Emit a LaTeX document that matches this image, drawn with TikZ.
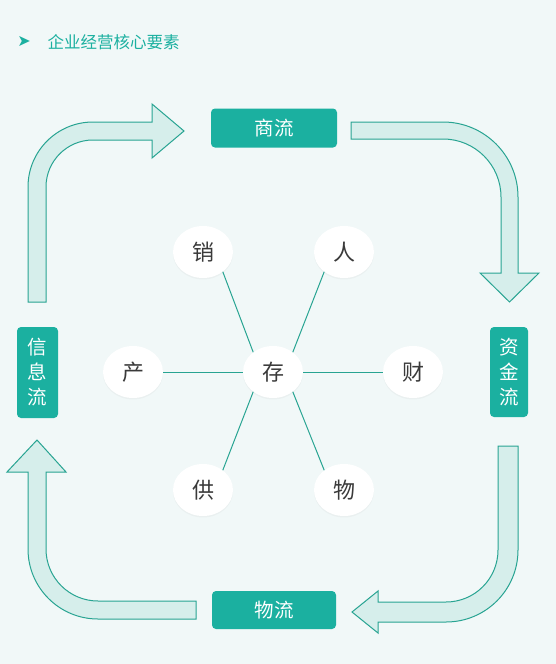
\documentclass[tikz,border=0pt]{standalone}
\usepackage{fontspec}
\setmainfont{Noto Sans CJK SC}
\newfontfamily\symfont{DejaVu Sans}
\usepackage{tikz}
\usetikzlibrary{shapes.geometric, shadows}
\definecolor{bgcol}{RGB}{241,248,248}
\definecolor{flowgreen}{RGB}{27,176,160}
\definecolor{flowline}{RGB}{40,164,146}
\definecolor{flowpale}{RGB}{214,238,235}
\definecolor{inkgray}{RGB}{58,58,58}
\tikzset{
  flow/.style={draw=flowline, fill=flowpale, line width=1pt, line join=miter},
  tag/.style={fill=flowgreen, rounded corners=4pt, text=white, inner sep=0pt,
    font=\fontsize{19.5}{25}\selectfont},
  item/.style={ellipse, fill=white, minimum width=60pt, minimum height=52pt, inner sep=0pt,
    text=inkgray, font=\fontsize{22}{22}\selectfont,
    drop shadow={opacity=0.06, shadow xshift=0pt, shadow yshift=-1.5pt}},
  spoke/.style={draw=flowline, line width=1pt}
}

\begin{document}
\begin{tikzpicture}[x=1pt, y=-1pt]
\useasboundingbox (0,0) rectangle (556,664);
\fill[bgcol] (0,0) rectangle (556,664);

% title
\node[text=flowgreen, font=\symfont\fontsize{16}{16}\selectfont] (bullet) at (24,41) {➤};
\node[anchor=west, text=flowgreen, font=\fontsize{16.5}{16.5}\selectfont] (title) at (44,42) {企业经营核心要素};

% flow arrows
\draw[flow] (28,302) -- (28,187) arc[start angle=180, end angle=270, radius=65]
  -- (152,122) -- (152,104) -- (184,131) -- (152,158) -- (152,140) -- (93,140)
  arc[start angle=270, end angle=180, radius=47] -- (46,302) -- cycle;
\draw[flow] (351,122) -- (443,122) arc[start angle=270, end angle=360, radius=75]
  -- (518,273) -- (539,273) -- (509.5,302) -- (480,273) -- (501,273) -- (501,197)
  arc[start angle=0, end angle=-90, radius=58] -- (351,139) -- cycle;
\draw[flow] (498,446) -- (518,446) -- (518,550) arc[start angle=0, end angle=90, radius=72]
  -- (378,622) -- (378,633) -- (352,612) -- (378,591) -- (378,602) -- (446,602)
  arc[start angle=90, end angle=0, radius=52] -- cycle;
\draw[flow] (196,601) -- (196,619) -- (98,619) arc[start angle=90, end angle=180, radius=70]
  -- (28,472) -- (7,472) -- (37,440) -- (66,472) -- (46,472) -- (46,549)
  arc[start angle=180, end angle=90, radius=52] -- cycle;

% flow tags
\node[tag, minimum width=126pt, minimum height=39pt] (shang) at (274,128) {商流};
\node[tag, minimum width=124pt, minimum height=38pt] (wuliu) at (274,610) {物流};
\node[tag, minimum width=41pt, minimum height=91pt, align=center] (xinxi) at (37.5,372.5) {信\\息\\流};
\node[tag, minimum width=38pt, minimum height=90pt, align=center] (zijin) at (509,372) {资\\金\\流};

% core elements
\node[item] (cun) at (273,372) {存};
\node[item] (xiao) at (203,252) {销};
\node[item] (ren) at (344,252) {人};
\node[item] (chan) at (133,372) {产};
\node[item] (cai) at (413,372) {财};
\node[item] (gong) at (203,490) {供};
\node[item] (wu) at (344,490) {物};
\draw[spoke] (cun) -- (chan) (cun) -- (cai);
\draw[spoke] (cun.135) -- (xiao.-45) (cun.45) -- (ren.-135);
\draw[spoke] (cun.-135) -- (gong.45) (cun.-45) -- (wu.135);
\end{tikzpicture}
\end{document}
